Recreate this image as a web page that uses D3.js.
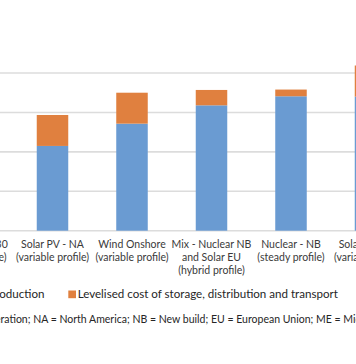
<!DOCTYPE html>
<html><head><meta charset="utf-8">
<script src="https://cdn.jsdelivr.net/npm/d3@7"></script>
<style>html,body{margin:0;padding:0;background:#fff;overflow:hidden}</style>
</head><body>
<svg id="c" width="356" height="364"></svg>
<script>
const categories = [
  ["Gas - ME 2030", "(steady profile)"],
  ["Solar PV - NA", "(variable profile)"],
  ["Wind Onshore", "(variable profile)"],
  ["Mix - Nuclear NB", "and Solar EU", "(hybrid profile)"],
  ["Nuclear - NB", "(steady profile)"],
  ["Solar PV - ME", "(variable profile)"]
];
const production = [45, 43, 54.3, 63.6, 68.2, 68.0];
const storage = [10, 15.7, 15.7, 7.8, 3.4, 15.8];
const yTicks = [0, 20, 40, 60, 80];
const legendLabels = ["Levelised cost of production", "Levelised cost of storage, distribution and transport"];
const footnote = "Note: CCGT = combined cycle gas generation; NA = North America; NB = New build; EU = European Union; ME = Middle East.";
const colors = ["#6a9bd2", "#e0803f"];

const svg = d3.select("#c");
const font = "Lato, 'Open Sans', sans-serif";
const x = d3.scalePoint().domain(d3.range(categories.length)).range([-27, 370.5]);
const y = d3.scaleLinear().domain([0, 80]).range([230.7, 73]);
const bw = 31.5;

svg.append("g").selectAll("line").data(yTicks).join("line")
  .attr("x1", 0).attr("x2", 356)
  .attr("y1", d => y(d)).attr("y2", d => y(d))
  .attr("stroke", "#dcdcdc").attr("stroke-width", 1.6);

const g = svg.append("g");
categories.forEach((c, i) => {
  g.append("rect").attr("x", x(i) - bw/2).attr("width", bw)
    .attr("y", y(production[i])).attr("height", y(0) - y(production[i]))
    .attr("fill", colors[0]);
  g.append("rect").attr("x", x(i) - bw/2).attr("width", bw)
    .attr("y", y(production[i] + storage[i])).attr("height", y(production[i]) - y(production[i] + storage[i]))
    .attr("fill", colors[1]);
  const t = svg.append("text").attr("text-anchor", "middle")
    .attr("font-family", font).attr("font-size", 10.5).attr("fill", "#3a3a3a");
  c.forEach((line, k) => {
    t.append("tspan").attr("x", x(i)).attr("y", 248.3 + k * 12.6).text(line);
  });
});

// legend
const lt1 = svg.append("text").attr("font-family", font).attr("font-size", 12)
  .attr("fill", "#262626").attr("x", 77.7).attr("y", 297.8).text(legendLabels[1]);
const lfs = 12 * 260.6 / lt1.node().getComputedTextLength();
lt1.attr("font-size", lfs);
const lt0 = svg.append("text").attr("font-family", font).attr("font-size", lfs)
  .attr("fill", "#262626").attr("text-anchor", "end").attr("x", 44.5).attr("y", 297.8).text(legendLabels[0]);
const w0 = lt0.node().getComputedTextLength();
svg.append("rect").attr("x", 44.5 - w0 - 9.5).attr("y", 290.5).attr("width", 7.7).attr("height", 7.7).attr("fill", colors[0]);
svg.append("rect").attr("x", 68.3).attr("y", 290.5).attr("width", 7.7).attr("height", 7.7).attr("fill", colors[1]);

// footnote
const fn = svg.append("text").attr("font-family", font).attr("font-size", 11)
  .attr("fill", "#262626").attr("y", 323);
const idx = footnote.indexOf("ration;");
const idx2 = footnote.indexOf("European");
const pre = fn.append("tspan").text(footnote.slice(0, idx));
const mid = fn.append("tspan").text(footnote.slice(idx, idx2));
fn.append("tspan").text(footnote.slice(idx2));
const ffs = 11 * 236 / mid.node().getComputedTextLength();
fn.attr("font-size", ffs);
const pw = pre.node().getComputedTextLength();
fn.attr("x", 0.5 - pw);
</script>
</body></html>
